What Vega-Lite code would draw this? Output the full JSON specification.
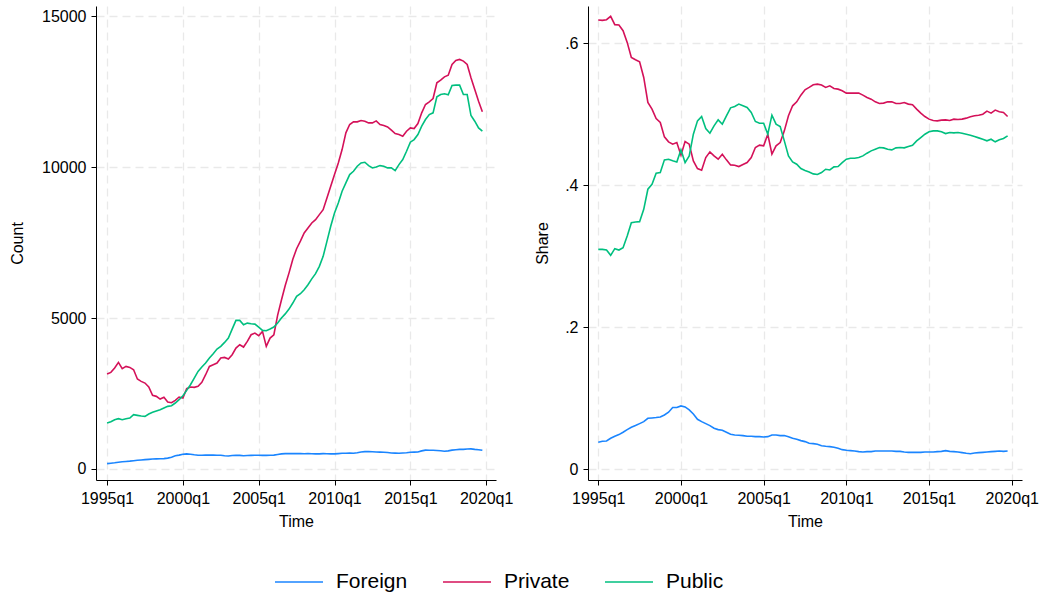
{
  "$schema": "https://vega.github.io/schema/vega-lite/v6.json",
  "padding": {"left": 9, "top": 6, "right": 5, "bottom": 5},
  "background": "white",
  "config": {
    "font": "Liberation Sans",
    "view": {"stroke": null},
    "axis": {
      "domainColor": "#000000",
      "domainWidth": 1,
      "tickColor": "#000000",
      "tickSize": 5,
      "labelPadding": 5,
      "labelColor": "#000000",
      "titleColor": "#000000",
      "labelFontSize": 16,
      "titleFontSize": 16,
      "titleFontWeight": "normal",
      "grid": true,
      "gridColor": "#e9e9e9",
      "gridDash": [8, 5],
      "gridWidth": 1.3
    },
    "line": {"strokeWidth": 1.6}
  },
  "datasets": {
    "counts": [
      {"t":1995,"Foreign":177,"Private":3146,"Public":1524},
      {"t":1995.25,"Foreign":190,"Private":3202,"Public":1568},
      {"t":1995.5,"Foreign":205,"Private":3345,"Public":1634},
      {"t":1995.75,"Foreign":225,"Private":3533,"Public":1667},
      {"t":1996,"Foreign":240,"Private":3323,"Public":1634},
      {"t":1996.25,"Foreign":250,"Private":3400,"Public":1667},
      {"t":1996.5,"Foreign":260,"Private":3367,"Public":1689},
      {"t":1996.75,"Foreign":275,"Private":3290,"Public":1800},
      {"t":1997,"Foreign":290,"Private":2981,"Public":1777},
      {"t":1997.25,"Foreign":300,"Private":2904,"Public":1755},
      {"t":1997.5,"Foreign":310,"Private":2848,"Public":1744},
      {"t":1997.75,"Foreign":320,"Private":2716,"Public":1822},
      {"t":1998,"Foreign":330,"Private":2440,"Public":1877},
      {"t":1998.25,"Foreign":335,"Private":2407,"Public":1921},
      {"t":1998.5,"Foreign":340,"Private":2318,"Public":1965},
      {"t":1998.75,"Foreign":345,"Private":2374,"Public":2020},
      {"t":1999,"Foreign":360,"Private":2219,"Public":2076},
      {"t":1999.25,"Foreign":390,"Private":2197,"Public":2098},
      {"t":1999.5,"Foreign":440,"Private":2274,"Public":2186},
      {"t":1999.75,"Foreign":460,"Private":2385,"Public":2296},
      {"t":2000,"Foreign":490,"Private":2352,"Public":2429},
      {"t":2000.25,"Foreign":500,"Private":2661,"Public":2605},
      {"t":2000.5,"Foreign":490,"Private":2716,"Public":2793},
      {"t":2000.75,"Foreign":470,"Private":2705,"Public":3014},
      {"t":2001,"Foreign":455,"Private":2738,"Public":3235},
      {"t":2001.25,"Foreign":455,"Private":2870,"Public":3378},
      {"t":2001.5,"Foreign":460,"Private":3124,"Public":3511},
      {"t":2001.75,"Foreign":460,"Private":3400,"Public":3676},
      {"t":2002,"Foreign":460,"Private":3455,"Public":3820},
      {"t":2002.25,"Foreign":455,"Private":3511,"Public":3974},
      {"t":2002.5,"Foreign":455,"Private":3676,"Public":4063},
      {"t":2002.75,"Foreign":440,"Private":3698,"Public":4195},
      {"t":2003,"Foreign":430,"Private":3643,"Public":4339},
      {"t":2003.25,"Foreign":445,"Private":3787,"Public":4637},
      {"t":2003.5,"Foreign":455,"Private":4007,"Public":4924},
      {"t":2003.75,"Foreign":450,"Private":4118,"Public":4924},
      {"t":2004,"Foreign":440,"Private":4041,"Public":4780},
      {"t":2004.25,"Foreign":445,"Private":4228,"Public":4835},
      {"t":2004.5,"Foreign":450,"Private":4449,"Public":4813},
      {"t":2004.75,"Foreign":455,"Private":4504,"Public":4802},
      {"t":2005,"Foreign":455,"Private":4416,"Public":4703},
      {"t":2005.25,"Foreign":450,"Private":4560,"Public":4593},
      {"t":2005.5,"Foreign":450,"Private":4063,"Public":4582},
      {"t":2005.75,"Foreign":455,"Private":4339,"Public":4637},
      {"t":2006,"Foreign":460,"Private":4449,"Public":4703},
      {"t":2006.25,"Foreign":480,"Private":5100,"Public":4835},
      {"t":2006.5,"Foreign":500,"Private":5600,"Public":5001},
      {"t":2006.75,"Foreign":510,"Private":6080,"Public":5140},
      {"t":2007,"Foreign":510,"Private":6500,"Public":5300},
      {"t":2007.25,"Foreign":510,"Private":6950,"Public":5500},
      {"t":2007.5,"Foreign":515,"Private":7300,"Public":5720},
      {"t":2007.75,"Foreign":510,"Private":7550,"Public":5808},
      {"t":2008,"Foreign":505,"Private":7821,"Public":5941},
      {"t":2008.25,"Foreign":510,"Private":7987,"Public":6107},
      {"t":2008.5,"Foreign":505,"Private":8153,"Public":6300},
      {"t":2008.75,"Foreign":500,"Private":8264,"Public":6472},
      {"t":2009,"Foreign":500,"Private":8430,"Public":6715},
      {"t":2009.25,"Foreign":510,"Private":8595,"Public":7047},
      {"t":2009.5,"Foreign":505,"Private":8982,"Public":7545},
      {"t":2009.75,"Foreign":500,"Private":9370,"Public":8042},
      {"t":2010,"Foreign":500,"Private":9757,"Public":8485},
      {"t":2010.25,"Foreign":510,"Private":10144,"Public":8817},
      {"t":2010.5,"Foreign":520,"Private":10586,"Public":9204},
      {"t":2010.75,"Foreign":520,"Private":11139,"Public":9480},
      {"t":2011,"Foreign":525,"Private":11416,"Public":9757},
      {"t":2011.25,"Foreign":520,"Private":11504,"Public":9867},
      {"t":2011.5,"Foreign":540,"Private":11504,"Public":10033},
      {"t":2011.75,"Foreign":565,"Private":11548,"Public":10144},
      {"t":2012,"Foreign":575,"Private":11526,"Public":10166},
      {"t":2012.25,"Foreign":575,"Private":11471,"Public":10055},
      {"t":2012.5,"Foreign":570,"Private":11471,"Public":9978},
      {"t":2012.75,"Foreign":565,"Private":11537,"Public":10011},
      {"t":2013,"Foreign":560,"Private":11416,"Public":10055},
      {"t":2013.25,"Foreign":555,"Private":11383,"Public":10033},
      {"t":2013.5,"Foreign":545,"Private":11338,"Public":9978},
      {"t":2013.75,"Foreign":530,"Private":11228,"Public":9978},
      {"t":2014,"Foreign":525,"Private":11117,"Public":9889},
      {"t":2014.25,"Foreign":520,"Private":11084,"Public":10088},
      {"t":2014.5,"Foreign":530,"Private":11029,"Public":10254},
      {"t":2014.75,"Foreign":540,"Private":11195,"Public":10531},
      {"t":2015,"Foreign":555,"Private":11305,"Public":10830},
      {"t":2015.25,"Foreign":560,"Private":11283,"Public":10918},
      {"t":2015.5,"Foreign":565,"Private":11449,"Public":11084},
      {"t":2015.75,"Foreign":600,"Private":11803,"Public":11360},
      {"t":2016,"Foreign":625,"Private":12079,"Public":11582},
      {"t":2016.25,"Foreign":620,"Private":12168,"Public":11747},
      {"t":2016.5,"Foreign":620,"Private":12278,"Public":11803},
      {"t":2016.75,"Foreign":615,"Private":12798,"Public":12334},
      {"t":2017,"Foreign":605,"Private":12887,"Public":12411},
      {"t":2017.25,"Foreign":590,"Private":12997,"Public":12433},
      {"t":2017.5,"Foreign":600,"Private":13052,"Public":12400},
      {"t":2017.75,"Foreign":625,"Private":13406,"Public":12710},
      {"t":2018,"Foreign":640,"Private":13539,"Public":12721},
      {"t":2018.25,"Foreign":650,"Private":13572,"Public":12721},
      {"t":2018.5,"Foreign":650,"Private":13517,"Public":12411},
      {"t":2018.75,"Foreign":660,"Private":13406,"Public":12411},
      {"t":2019,"Foreign":665,"Private":12964,"Public":11714},
      {"t":2019.25,"Foreign":650,"Private":12577,"Public":11526},
      {"t":2019.5,"Foreign":640,"Private":12190,"Public":11305},
      {"t":2019.75,"Foreign":620,"Private":11836,"Public":11194}
    ],
    "shares": [
      {"t":1995,"Foreign":0.0376,"Private":0.6330,"Public":0.3096},
      {"t":1995.25,"Foreign":0.0391,"Private":0.6325,"Public":0.3096},
      {"t":1995.5,"Foreign":0.0395,"Private":0.6334,"Public":0.3087},
      {"t":1995.75,"Foreign":0.0433,"Private":0.6381,"Public":0.3012},
      {"t":1996,"Foreign":0.0461,"Private":0.6264,"Public":0.3106},
      {"t":1996.25,"Foreign":0.0485,"Private":0.6259,"Public":0.3087},
      {"t":1996.5,"Foreign":0.0518,"Private":0.6179,"Public":0.3120},
      {"t":1996.75,"Foreign":0.0555,"Private":0.6014,"Public":0.3285},
      {"t":1997,"Foreign":0.0588,"Private":0.5802,"Public":0.3473},
      {"t":1997.25,"Foreign":0.0612,"Private":0.5769,"Public":0.3482},
      {"t":1997.5,"Foreign":0.0640,"Private":0.5741,"Public":0.3487},
      {"t":1997.75,"Foreign":0.0668,"Private":0.5520,"Public":0.3661},
      {"t":1998,"Foreign":0.0715,"Private":0.5167,"Public":0.3944},
      {"t":1998.25,"Foreign":0.0720,"Private":0.5073,"Public":0.4014},
      {"t":1998.5,"Foreign":0.0725,"Private":0.4941,"Public":0.4170},
      {"t":1998.75,"Foreign":0.0734,"Private":0.4885,"Public":0.4179},
      {"t":1999,"Foreign":0.0762,"Private":0.4682,"Public":0.4358},
      {"t":1999.25,"Foreign":0.0800,"Private":0.4612,"Public":0.4367},
      {"t":1999.5,"Foreign":0.0866,"Private":0.4579,"Public":0.4344},
      {"t":1999.75,"Foreign":0.0866,"Private":0.4602,"Public":0.4329},
      {"t":2000,"Foreign":0.0889,"Private":0.4424,"Public":0.4499},
      {"t":2000.25,"Foreign":0.0875,"Private":0.4616,"Public":0.4320},
      {"t":2000.5,"Foreign":0.0833,"Private":0.4579,"Public":0.4414},
      {"t":2000.75,"Foreign":0.0776,"Private":0.4344,"Public":0.4720},
      {"t":2001,"Foreign":0.0701,"Private":0.4235,"Public":0.4908},
      {"t":2001.25,"Foreign":0.0668,"Private":0.4212,"Public":0.4969},
      {"t":2001.5,"Foreign":0.0640,"Private":0.4391,"Public":0.4800},
      {"t":2001.75,"Foreign":0.0612,"Private":0.4471,"Public":0.4734},
      {"t":2002,"Foreign":0.0574,"Private":0.4414,"Public":0.4838},
      {"t":2002.25,"Foreign":0.0555,"Private":0.4367,"Public":0.4922},
      {"t":2002.5,"Foreign":0.0546,"Private":0.4438,"Public":0.4861},
      {"t":2002.75,"Foreign":0.0518,"Private":0.4358,"Public":0.4979},
      {"t":2003,"Foreign":0.0489,"Private":0.4287,"Public":0.5092},
      {"t":2003.25,"Foreign":0.0480,"Private":0.4282,"Public":0.5111},
      {"t":2003.5,"Foreign":0.0475,"Private":0.4264,"Public":0.5144},
      {"t":2003.75,"Foreign":0.0471,"Private":0.4292,"Public":0.5120},
      {"t":2004,"Foreign":0.0461,"Private":0.4320,"Public":0.5096},
      {"t":2004.25,"Foreign":0.0461,"Private":0.4391,"Public":0.5026},
      {"t":2004.5,"Foreign":0.0456,"Private":0.4532,"Public":0.4899},
      {"t":2004.75,"Foreign":0.0456,"Private":0.4565,"Public":0.4875},
      {"t":2005,"Foreign":0.0452,"Private":0.4555,"Public":0.4875},
      {"t":2005.25,"Foreign":0.0456,"Private":0.4720,"Public":0.4720},
      {"t":2005.5,"Foreign":0.0480,"Private":0.4438,"Public":0.4988},
      {"t":2005.75,"Foreign":0.0480,"Private":0.4555,"Public":0.4861},
      {"t":2006,"Foreign":0.0471,"Private":0.4602,"Public":0.4828},
      {"t":2006.25,"Foreign":0.0471,"Private":0.4767,"Public":0.4626},
      {"t":2006.5,"Foreign":0.0456,"Private":0.4979,"Public":0.4414},
      {"t":2006.75,"Foreign":0.0433,"Private":0.5120,"Public":0.4329},
      {"t":2007,"Foreign":0.0419,"Private":0.5176,"Public":0.4296},
      {"t":2007.25,"Foreign":0.0400,"Private":0.5270,"Public":0.4235},
      {"t":2007.5,"Foreign":0.0386,"Private":0.5346,"Public":0.4207},
      {"t":2007.75,"Foreign":0.0362,"Private":0.5379,"Public":0.4188},
      {"t":2008,"Foreign":0.0358,"Private":0.5416,"Public":0.4160},
      {"t":2008.25,"Foreign":0.0348,"Private":0.5426,"Public":0.4151},
      {"t":2008.5,"Foreign":0.0329,"Private":0.5412,"Public":0.4179},
      {"t":2008.75,"Foreign":0.0320,"Private":0.5379,"Public":0.4226},
      {"t":2009,"Foreign":0.0315,"Private":0.5402,"Public":0.4216},
      {"t":2009.25,"Foreign":0.0306,"Private":0.5365,"Public":0.4259},
      {"t":2009.5,"Foreign":0.0292,"Private":0.5355,"Public":0.4264},
      {"t":2009.75,"Foreign":0.0273,"Private":0.5332,"Public":0.4320},
      {"t":2010,"Foreign":0.0264,"Private":0.5299,"Public":0.4367},
      {"t":2010.25,"Foreign":0.0259,"Private":0.5299,"Public":0.4381},
      {"t":2010.5,"Foreign":0.0254,"Private":0.5299,"Public":0.4381},
      {"t":2010.75,"Foreign":0.0245,"Private":0.5299,"Public":0.4391},
      {"t":2011,"Foreign":0.0240,"Private":0.5271,"Public":0.4414},
      {"t":2011.25,"Foreign":0.0245,"Private":0.5238,"Public":0.4452},
      {"t":2011.5,"Foreign":0.0245,"Private":0.5214,"Public":0.4485},
      {"t":2011.75,"Foreign":0.0254,"Private":0.5176,"Public":0.4508},
      {"t":2012,"Foreign":0.0254,"Private":0.5153,"Public":0.4532},
      {"t":2012.25,"Foreign":0.0254,"Private":0.5158,"Public":0.4527},
      {"t":2012.5,"Foreign":0.0254,"Private":0.5176,"Public":0.4508},
      {"t":2012.75,"Foreign":0.0254,"Private":0.5176,"Public":0.4499},
      {"t":2013,"Foreign":0.0249,"Private":0.5153,"Public":0.4527},
      {"t":2013.25,"Foreign":0.0249,"Private":0.5153,"Public":0.4532},
      {"t":2013.5,"Foreign":0.0240,"Private":0.5167,"Public":0.4527},
      {"t":2013.75,"Foreign":0.0235,"Private":0.5144,"Public":0.4546},
      {"t":2014,"Foreign":0.0235,"Private":0.5134,"Public":0.4565},
      {"t":2014.25,"Foreign":0.0235,"Private":0.5073,"Public":0.4626},
      {"t":2014.5,"Foreign":0.0235,"Private":0.5016,"Public":0.4673},
      {"t":2014.75,"Foreign":0.0240,"Private":0.4969,"Public":0.4720},
      {"t":2015,"Foreign":0.0240,"Private":0.4932,"Public":0.4753},
      {"t":2015.25,"Foreign":0.0240,"Private":0.4913,"Public":0.4767},
      {"t":2015.5,"Foreign":0.0245,"Private":0.4908,"Public":0.4767},
      {"t":2015.75,"Foreign":0.0249,"Private":0.4918,"Public":0.4753},
      {"t":2016,"Foreign":0.0259,"Private":0.4922,"Public":0.4729},
      {"t":2016.25,"Foreign":0.0249,"Private":0.4913,"Public":0.4744},
      {"t":2016.5,"Foreign":0.0245,"Private":0.4932,"Public":0.4739},
      {"t":2016.75,"Foreign":0.0240,"Private":0.4927,"Public":0.4744},
      {"t":2017,"Foreign":0.0231,"Private":0.4932,"Public":0.4734},
      {"t":2017.25,"Foreign":0.0221,"Private":0.4946,"Public":0.4720},
      {"t":2017.5,"Foreign":0.0216,"Private":0.4965,"Public":0.4706},
      {"t":2017.75,"Foreign":0.0226,"Private":0.4979,"Public":0.4687},
      {"t":2018,"Foreign":0.0231,"Private":0.4988,"Public":0.4668},
      {"t":2018.25,"Foreign":0.0235,"Private":0.5002,"Public":0.4649},
      {"t":2018.5,"Foreign":0.0240,"Private":0.5045,"Public":0.4626},
      {"t":2018.75,"Foreign":0.0245,"Private":0.5016,"Public":0.4649},
      {"t":2019,"Foreign":0.0249,"Private":0.5059,"Public":0.4612},
      {"t":2019.25,"Foreign":0.0254,"Private":0.5035,"Public":0.4640},
      {"t":2019.5,"Foreign":0.0249,"Private":0.5026,"Public":0.4659},
      {"t":2019.75,"Foreign":0.0254,"Private":0.4969,"Public":0.4696}
    ]
  },
  "spacing": 21,
  "hconcat": [
    {
      "width": 400,
      "height": 474,
      "data": {"name": "counts"},
      "transform": [{"fold": ["Foreign", "Private", "Public"], "as": ["group", "value"]}],
      "mark": {"type": "line", "strokeWidth": 1.6},
      "encoding": {
        "x": {
          "field": "t", "type": "quantitative",
          "scale": {"domain": [1994.27, 2020.65], "nice": false, "zero": false},
          "axis": {"values": [1995, 2000, 2005, 2010, 2015, 2020], "labelExpr": "datum.value + 'q1'", "title": "Time", "titlePadding": 7}
        },
        "y": {
          "field": "value", "type": "quantitative",
          "scale": {"domain": [-365, 15344], "nice": false, "zero": false},
          "axis": {"values": [0, 5000, 10000, 15000], "format": "d", "title": "Count", "titlePadding": 16}
        },
        "color": {
          "field": "group", "type": "nominal",
          "scale": {"domain": ["Foreign", "Private", "Public"], "range": ["#1a85ff", "#d41159", "#00bf7f"]},
          "legend": {
            "orient": "none", "legendX": 178, "legendY": 551, "direction": "horizontal",
            "title": null, "symbolType": "stroke", "symbolSize": 2304, "symbolStrokeWidth": 2,
            "labelFontSize": 21, "labelColor": "#000000", "labelOffset": 12, "columnPadding": 31
          }
        }
      }
    },
    {
      "width": 434,
      "height": 474,
      "data": {"name": "shares"},
      "transform": [{"fold": ["Foreign", "Private", "Public"], "as": ["group", "value"]}],
      "mark": {"type": "line", "strokeWidth": 1.6},
      "encoding": {
        "x": {
          "field": "t", "type": "quantitative",
          "scale": {"domain": [1994.38, 2020.62], "nice": false, "zero": false},
          "axis": {"values": [1995, 2000, 2005, 2010, 2015, 2020], "labelExpr": "datum.value + 'q1'", "title": "Time", "titlePadding": 7}
        },
        "y": {
          "field": "value", "type": "quantitative",
          "scale": {"domain": [-0.0155, 0.6527], "nice": false, "zero": false},
          "axis": {"values": [0, 0.2, 0.4, 0.6], "labelExpr": "datum.value == 0 ? '0' : replace(format(datum.value, '.1f'), '0.', '.')", "title": "Share", "titlePadding": 14}
        },
        "color": {"field": "group", "type": "nominal"}
      }
    }
  ],
  "resolve": {"scale": {"color": "shared"}}
}
